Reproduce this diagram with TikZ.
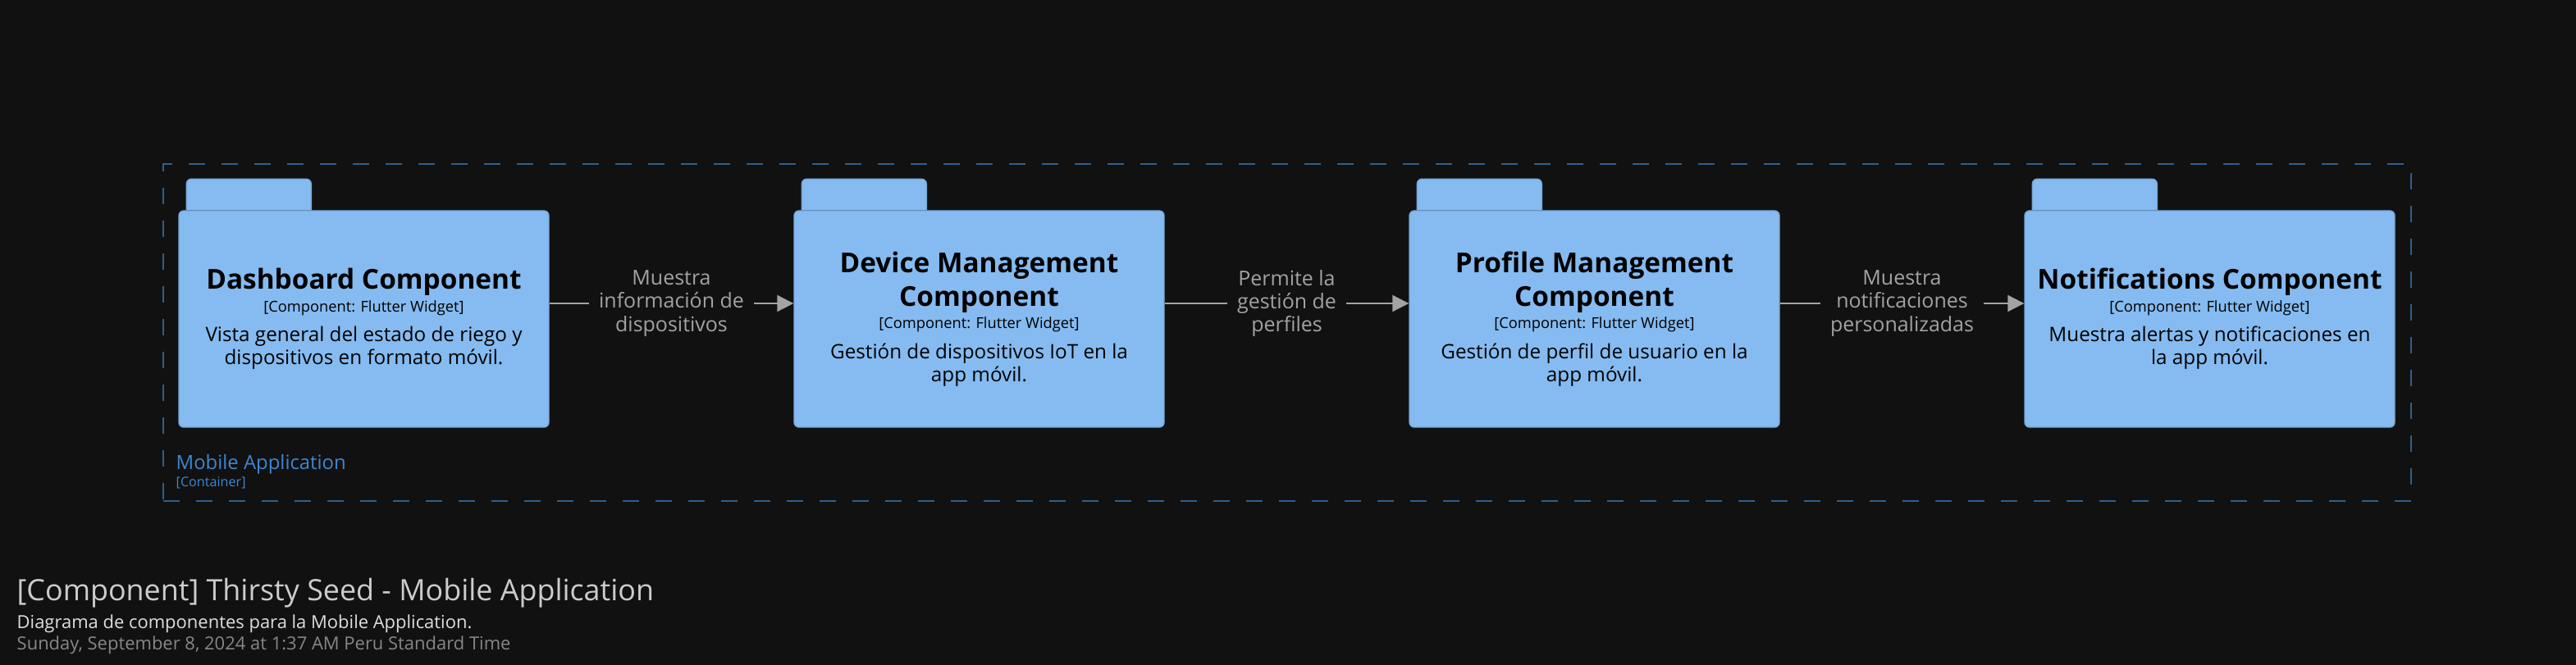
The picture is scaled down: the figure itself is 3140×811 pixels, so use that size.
\documentclass[tikz,border=0pt]{standalone}
\usepackage{fontspec}
\setmainfont{Open Sans}
\usetikzlibrary{positioning, calc, arrows.meta}

\definecolor{bgdark}{HTML}{111111}
\definecolor{compblue}{HTML}{85BBF0}
\definecolor{compline}{HTML}{78A8D8}
\definecolor{bndline}{HTML}{2D5F8F}
\definecolor{bndtext}{HTML}{3F86D0}
\definecolor{relgray}{HTML}{A3A3A3}

\newcommand{\comptitle}{\fontsize{9.5}{11.6}\selectfont\bfseries}
\newcommand{\compmeta}{\fontsize{5.2}{7.9}\selectfont}
\newcommand{\compdesc}{\fontsize{6.9}{8}\selectfont}

\begin{document}
\begin{tikzpicture}[x=0.1mm, y=-0.1mm,
  component/.style={draw=compline, fill=compblue, rounded corners=0.6mm, line width=0.4pt,
    minimum width=45.1mm, minimum height=26.4mm, text width=44mm, align=flush center,
    inner sep=0pt, text=black},
  comptab/.style={draw=compline, fill=compblue, rounded corners=0.6mm, line width=0.4pt},
  rel/.style={draw=relgray, line width=0.6pt, -{Triangle[length=2mm, width=2mm]}},
  rellabel/.style={fill=bgdark, text=relgray, align=flush center, inner xsep=1.2mm, inner ysep=0.3mm,
    font=\fontsize{7.1}{8}\selectfont},
  boundary/.style={draw=bndline, line width=0.55pt, dash pattern=on 2mm off 2mm},
]
  \useasboundingbox[fill=bgdark] (0,0) rectangle (3140,811);

  % container boundary
  \node[boundary, minimum width=274mm, minimum height=41.1mm, inner sep=0pt] (mobileapp) at (1569,405.5) {};
  \node[anchor=base west, inner sep=0pt, text=bndtext, font=\fontsize{6.8}{8}\selectfont] (mobilename) at (214,573) {Mobile Application};
  \node[anchor=base west, inner sep=0pt, text=bndtext, font=\fontsize{4.6}{6}\selectfont] (mobiletype) at (214,594) {[Container]};

  % components
  \node[component] (dash) at (443.5,389) {{\comptitle Dashboard Component\par}{\compmeta [Component: Flutter Widget]\par}\vspace{2.3pt}{\compdesc Vista general del estado de riego y\\dispositivos en formato móvil.\par}};
  \node[component] (devmgmt) at (1193.5,389) {{\comptitle Device Management\\Component\par}{\compmeta [Component: Flutter Widget]\par}\vspace{2.3pt}{\compdesc Gestión de dispositivos IoT en la\\app móvil.\par}};
  \node[component] (profmgmt) at (1943.5,389) {{\comptitle Profile Management\\Component\par}{\compmeta [Component: Flutter Widget]\par}\vspace{2.3pt}{\compdesc Gestión de perfil de usuario en la\\app móvil.\par}};
  \node[component] (notif) at (2693.5,389) {{\comptitle Notifications Component\par}{\compmeta [Component: Flutter Widget]\par}\vspace{2.3pt}{\compdesc Muestra alertas y notificaciones en\\la app móvil.\par}};

  % folder tabs
  \foreach \c in {dash, devmgmt, profmgmt, notif}
    \filldraw[comptab] ($(\c.north west)+(10,0)$) |- ($(\c.north west)+(86,-38)$) -| ($(\c.north west)+(162,0)$);

  \path
    ([yshift=1.9mm]dash.east) edge[rel] node[rellabel] {Muestra\\información de\\dispositivos} ([yshift=1.9mm]devmgmt.west)
    ([yshift=1.9mm]devmgmt.east) edge[rel] node[rellabel] {Permite la\\gestión de\\perfiles} ([yshift=1.9mm]profmgmt.west)
    ([yshift=1.9mm]profmgmt.east) edge[rel] node[rellabel] {Muestra\\notificaciones\\personalizadas} ([yshift=1.9mm]notif.west);

  % diagram title
  \node[anchor=base west, inner sep=0pt, text=white!80!black, font=\fontsize{10.2}{12}\selectfont] (title) at (20,733) {[Component] Thirsty Seed - Mobile Application};
  \node[anchor=base west, inner sep=0pt, text=white!87!black, font=\fontsize{6.25}{8}\selectfont] (subtitle) at (20,766) {Diagrama de componentes para la Mobile Application.};
  \node[anchor=base west, inner sep=0pt, text=white!53!black, font=\fontsize{6.25}{8}\selectfont] (stamp) at (20,792) {Sunday, September 8, 2024 at 1:37 AM Peru Standard Time};
\end{tikzpicture}
\end{document}
